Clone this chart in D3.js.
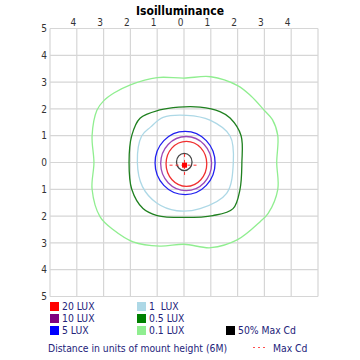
<!DOCTYPE html>
<meta charset="utf-8">
<style type="text/css">
body { margin: 0; background: #fff; }
svg text {
  font-family: "DejaVu Sans Condensed", "DejaVu Sans", sans-serif;
  font-stretch: condensed;
}
.grid line { stroke: #d6d6d6; stroke-width: 1.2; }
.axis text { fill: #333; font-size: 10px; }
.axis path { display: none; }
.contour { fill: none; stroke-width: 1.3; }
.legend text { fill: #23237a; font-size: 10.3px; white-space: pre; }
</style>
<body></body>
<script src="https://d3js.org/d3.v7.min.js"></script>
<script>

// grid / tick values (units of mount height)
var gridValues = [-5, -4, -3, -2, -1, 0, 1, 2, 3, 4, 5];
var topTicks = [-4, -3, -2, -1, 0, 1, 2, 3, 4];

// outer contours, points [x, y]
var lux01 = [[3.46, 0], [3.5, 1.0], [3.3, 1.6], [3.0, 1.94], [2.5, 2.48], [2.0, 2.87], [1.0, 3.2],
  [0, 3.15], [-1, 3.17], [-2, 2.9], [-2.6, 2.6], [-3.0, 2.3], [-3.25, 1.95], [-3.43, 1.0],
  [-3.36, 0], [-3.43, -1.0], [-3.13, -2.03], [-2.65, -2.5], [-1.9, -2.96], [-0.9, -3.12],
  [0, -3.05], [1.0, -3.18], [2.0, -2.88], [2.85, -2.2], [3.14, -1.9], [3.5, -1.0]];
var lux05 = [[2.16, 0], [2.13, 1.0], [1.72, 1.66], [1.34, 1.9], [0.6, 2.07], [-0.2, 2.07],
  [-0.9, 1.96], [-1.64, 1.65], [-1.95, 1.0], [-2.05, 0], [-1.95, -1.0], [-1.53, -1.72],
  [-1.0, -1.98], [0, -2.05], [1.08, -1.98], [1.83, -1.72], [2.09, -1.0]];
var lux1 = [[1.84, 0], [1.72, 0.99], [0.97, 1.58], [0.1, 1.76], [-0.78, 1.68], [-1.25, 1.32],
  [-1.58, 0.99], [-1.74, 0], [-1.55, -0.9], [-1.02, -1.51], [-0.27, -1.8], [0.6, -1.72],
  [1.59, -1.15]];

// inner rings: centre and radii
var ringNames = ["5 LUX", "10 LUX", "20 LUX", "50% Max Cd"];
var ringCx = [0.04, 0.08, 0.09, 0.01];
var ringCy = [-0.02, -0.04, -0.05, 0.02];
var ringRx = [1.12, 0.95, 0.76, 0.29];
var ringRy = [1.18, 1.01, 0.84, 0.32];
var ringColors = ["#2020f0", "#9a48b8", "#f03030", "#444444"];

// max candela point
var maxCd = [0.02, -0.1];

// legend
var legendLabels = ["20 LUX", "10 LUX", "5 LUX", "1  LUX", "0.5 LUX", "0.1 LUX", "50% Max Cd"];
var legendColors = ["#ff0000", "#800080", "#0000ff", "#add8e6", "#008000", "#90ee90", "#000000"];

var width = 360, height = 360;

var x = d3.scaleLinear().domain([-5, 5]).range([50, 318]);
var y = d3.scaleLinear().domain([-5, 5]).range([296.5, 28.5]);

var svg = d3.select("body").append("svg")
    .attr("width", width)
    .attr("height", height);

// grid
var grid = svg.append("g").attr("class", "grid");
grid.selectAll(".v").data(gridValues).enter().append("line")
    .attr("x1", function(d) { return x(d); }).attr("x2", function(d) { return x(d); })
    .attr("y1", y(5)).attr("y2", y(-5));
grid.selectAll(".h").data(gridValues).enter().append("line")
    .attr("y1", function(d) { return y(d); }).attr("y2", function(d) { return y(d); })
    .attr("x1", x(-5)).attr("x2", x(5));

// axes, labels show absolute distance
svg.append("g")
    .attr("class", "axis")
    .attr("transform", "translate(-4," + (y(5) - 1) + ")")
    .call(d3.axisTop(x).tickValues(topTicks).tickSize(0).tickPadding(1.5)
      .tickFormat(function(d) { return Math.abs(d); }));

svg.append("g")
    .attr("class", "axis")
    .attr("transform", "translate(" + x(-5) + ",0)")
    .call(d3.axisLeft(y).tickValues(gridValues).tickSize(0).tickPadding(3)
      .tickFormat(function(d) { return Math.abs(d); }));

// title
svg.append("text")
    .attr("x", 180).attr("y", 14.5)
    .attr("text-anchor", "middle")
    .style("font-size", "12px")
    .style("font-weight", "bold")
    .text("Isoilluminance");

// contour lines
var line = d3.line()
    .x(function(d) { return x(d[0]); })
    .y(function(d) { return y(d[1]); })
    .curve(d3.curveCatmullRomClosed);

svg.append("path").datum(lux01).attr("class", "contour").attr("stroke", "#90ee90").attr("d", line);
svg.append("path").datum(lux05).attr("class", "contour").attr("stroke", "#1f801f").attr("d", line);
svg.append("path").datum(lux1).attr("class", "contour").attr("stroke", "#add8e6").attr("d", line);

svg.selectAll(".ring")
    .data(ringNames)
  .enter().append("ellipse")
    .attr("class", "contour ring")
    .attr("cx", function(d, i) { return x(ringCx[i]); })
    .attr("cy", function(d, i) { return y(ringCy[i]); })
    .attr("rx", function(d, i) { return x(ringRx[i]) - x(0); })
    .attr("ry", function(d, i) { return y(0) - y(ringRy[i]); })
    .attr("stroke", function(d, i) { return ringColors[i]; })
    .attr("stroke-width", function(d, i) { return i == 3 ? 1.5 : 1.2; });

// max cd cross hair
var cx = x(maxCd[0]), cy = y(maxCd[1]);
svg.append("line")
    .attr("x1", x(maxCd[0] - 0.56)).attr("x2", x(maxCd[0] + 0.56))
    .attr("y1", cy).attr("y2", cy)
    .attr("stroke", "#ff3030").attr("stroke-width", 1).attr("stroke-dasharray", "3,3");
svg.append("line")
    .attr("x1", cx).attr("x2", cx)
    .attr("y1", y(maxCd[1] + 0.42)).attr("y2", y(maxCd[1] - 0.42))
    .attr("stroke", "#ff3030").attr("stroke-width", 1).attr("stroke-dasharray", "3,3");
svg.append("rect")
    .attr("x", cx - 2.5).attr("y", cy - 2.5)
    .attr("width", 5).attr("height", 5)
    .attr("fill", "#ff0000");

// legend
var colX = [50, 137, 226], rowY = [306.5, 318.5, 330.5];
var legend = svg.append("g").attr("class", "legend");
var item = legend.selectAll(".item")
    .data(legendLabels)
  .enter().append("g")
    .attr("transform", function(d, i) {
      var col = Math.min(Math.floor(i / 3), 2), row = i < 6 ? i % 3 : 2;
      return "translate(" + colX[col] + "," + rowY[row] + ")";
    });
item.append("rect")
    .attr("x", 0).attr("y", -4.5)
    .attr("width", 9).attr("height", 9)
    .attr("fill", function(d, i) { return legendColors[i]; });
item.append("text")
    .attr("x", 12).attr("y", 3.8)
    .text(function(d) { return d; });

legend.append("text")
    .attr("x", 48).attr("y", 351.5)
    .text("Distance in units of mount height (6M)");
legend.append("line")
    .attr("x1", 253).attr("x2", 266)
    .attr("y1", 347.5).attr("y2", 347.5)
    .attr("stroke", "#ff5050").attr("stroke-width", 1).attr("stroke-dasharray", "2,3");
legend.append("text")
    .attr("x", 273).attr("y", 351.5)
    .text("Max Cd");

</script>
